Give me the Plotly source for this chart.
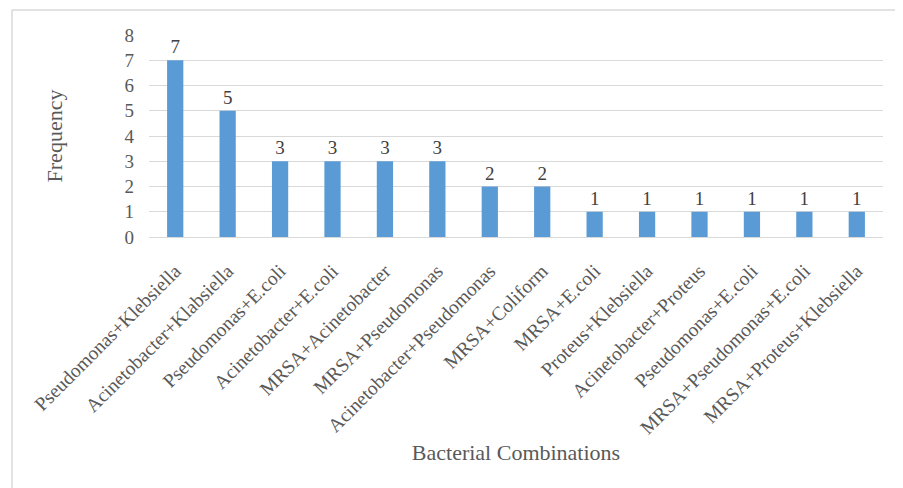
import plotly.graph_objects as go

categories = [
    "Pseudomonas+Klebsiella", "Acinetobacter+Klabsiella", "Pseudomonas+E.coli",
    "Acinetobacter+E.coli", "MRSA+Acinetobacter", "MRSA+Pseudomonas",
    "Acinetobacter+Pseudomonas", "MRSA+Coliform", "MRSA+E.coli",
    "Proteus+Klebsiella", "Acinetobacter+Proteus", "Pseudomonas+E.coli",
    "MRSA+Pseudomonas+E.coli", "MRSA+Proteus+Klebsiella",
]
frequency = [7, 5, 3, 3, 3, 3, 2, 2, 1, 1, 1, 1, 1, 1]
y_ticks = [0, 1, 2, 3, 4, 5, 6, 7, 8]

# unique x positions (one category name repeats)
x_pos = list(range(len(categories)))

OFF = 8  # page body margin
W, H = 903 - OFF, 488 - OFF
ML, MR, MT, MB = 149 - OFF, 20, 35 - OFF, 251
pw, ph = W - ML - MR, H - MT - MB

FONT = "Liberation Serif, Times New Roman, serif"
GREY = "#595959"

fig = go.Figure(go.Bar(
    x=x_pos, y=frequency, width=0.31,
    marker=dict(color="#5b9bd5", line=dict(width=0)),
    text=[str(v) for v in frequency], textposition="outside",
    textfont=dict(family=FONT, size=19, color="#404040"),
    cliponaxis=False,
))

fig.update_layout(
    width=W, height=H,
    margin=dict(l=ML, r=MR, t=MT, b=MB),
    paper_bgcolor="white", plot_bgcolor="white",
    showlegend=False,
    font=dict(family=FONT, color=GREY),
    xaxis=dict(
        tickmode="array", tickvals=x_pos, ticktext=categories,
        tickangle=-45, tickfont=dict(family=FONT, size=19.5, color=GREY),
        range=[-0.5, len(categories) - 0.5],
        showgrid=False, showline=False, zeroline=False,
        ticks="outside", ticklen=14, tickcolor="rgba(0,0,0,0)",
        title=dict(text="Bacterial Combinations", font=dict(family=FONT, size=22, color=GREY), standoff=7),
    ),
    yaxis=dict(
        range=[0, 8], tickvals=y_ticks,
        tickfont=dict(family=FONT, size=19, color=GREY),
        showgrid=True, gridcolor="#d9d9d9", gridwidth=1,
        zeroline=True, zerolinecolor="#d9d9d9", zerolinewidth=1,
        showline=False, ticks="", ticklabelstandoff=14,
        title=dict(text="Frequency", font=dict(family=FONT, size=22, color=GREY), standoff=55),
    ),
)

# outer frame (top and left edges), in paper coordinates
fx = (12 - OFF - ML) / pw
fy = 1 + (MT - (10 - OFF)) / ph
fy_bot = 1 + (MT - H - 5) / ph
fx_right = 1 + (W + 5 - ML - pw) / pw
fig.add_shape(type="line", xref="paper", yref="paper", x0=fx, x1=fx_right, y0=fy, y1=fy,
              line=dict(color="#d9d9d9", width=1.5))
fig.add_shape(type="line", xref="paper", yref="paper", x0=fx, x1=fx, y0=fy, y1=fy_bot,
              line=dict(color="#d9d9d9", width=1.5))

fig.write_html("out.html")
